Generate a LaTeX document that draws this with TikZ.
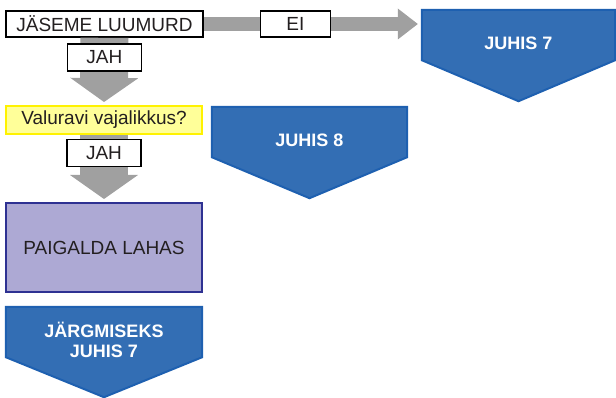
\documentclass[tikz,border=0pt]{standalone}
\usepackage{fontspec}
\setmainfont{Liberation Sans}
\usetikzlibrary{arrows.meta}

\definecolor{juhisblue}{HTML}{336EB4}
\definecolor{juhisedge}{HTML}{1E60B0}
\definecolor{arrowgray}{HTML}{A0A0A0}
\definecolor{askyellow}{HTML}{FFFF99}
\definecolor{askedge}{HTML}{FFF200}
\definecolor{actionfill}{HTML}{ADA9D4}
\definecolor{actionedge}{HTML}{2E3192}
\definecolor{textgray}{HTML}{231F20}

\tikzset{
  plainbox/.style={draw=black, line width=1.6pt, fill=white, text=textgray, inner sep=0pt,
    font=\fontsize{19}{21}\selectfont},
  askbox/.style={plainbox, draw=askedge, fill=askyellow, line width=2pt},
  actionbox/.style={plainbox, draw=actionedge, fill=actionfill, line width=2pt},
  juhisbox/.style={rectangle, inner sep=0pt, minimum height=50pt},
  juhis/.style={fill=juhisblue, draw=juhisedge, line width=2pt},
  juhistext/.style={text=white, font=\fontsize{18}{20}\selectfont\bfseries, align=center},
  fatright/.style={arrowgray, line width=14pt, shorten >=4pt,
    -{Triangle[width=31pt, length=20pt, line width=0pt]}},
  fatdown/.style={arrowgray, line width=48pt, shorten >=3pt,
    -{Triangle[width=68pt, length=24pt, line width=0pt]}}
}

\begin{document}
\begin{tikzpicture}[x=1pt, y=-1pt]
  \useasboundingbox (0,0) rectangle (616,398);

  % Left column
  \node[plainbox, minimum width=197pt, minimum height=26pt] (luumurd) at (104.5,24) {JÄSEME LUUMURD};
  \node[askbox, minimum width=196pt, minimum height=28pt] (valuravi) at (104,120) {Valuravi vajalikkus?};
  \node[actionbox, minimum width=196pt, minimum height=89pt] (lahas) at (104,247.5) {PAIGALDA LAHAS};

  % Juhis 7
  \node[juhisbox, minimum width=193pt] (juhis7) at (518.5,35) {};
  \filldraw[juhis] (juhis7.north west) -- (juhis7.north east) -- (juhis7.south east)
    -- ([yshift=-41pt]juhis7.south) -- (juhis7.south west) -- cycle;
  \node[juhistext] (juhis7txt) at ([yshift=-8pt]juhis7.center) {JUHIS 7};

  % Juhis 8
  \node[juhisbox, minimum width=195pt] (juhis8) at (309.5,132) {};
  \filldraw[juhis] (juhis8.north west) -- (juhis8.north east) -- (juhis8.south east)
    -- ([yshift=-41pt]juhis8.south) -- (juhis8.south west) -- cycle;
  \node[juhistext] (juhis8txt) at ([yshift=-8pt]juhis8.center) {JUHIS 8};

  % Jargmiseks juhis 7
  \node[juhisbox, minimum width=196pt] (jargmine) at (104,332) {};
  \filldraw[juhis] (jargmine.north west) -- (jargmine.north east) -- (jargmine.south east)
    -- ([yshift=-40pt]jargmine.south) -- (jargmine.south west) -- cycle;
  \node[juhistext] (jargminetxt) at ([yshift=-8pt]jargmine.center) {JÄRGMISEKS\\JUHIS 7};

  % Arrows
  \draw[fatright] (luumurd.east) -- node[pos=0.42, plainbox, minimum width=70pt, minimum height=26pt] (ei) {EI}
    (luumurd.east -| juhis7.west);
  \draw[fatdown] (luumurd.south) -- node[pos=0.29, plainbox, minimum width=74pt, minimum height=27pt] (jah1) {JAH}
    (valuravi.north);
  \draw[fatdown] (valuravi.south) -- node[pos=0.27, plainbox, minimum width=74pt, minimum height=27pt] (jah2) {JAH}
    (lahas.north);
\end{tikzpicture}
\end{document}
